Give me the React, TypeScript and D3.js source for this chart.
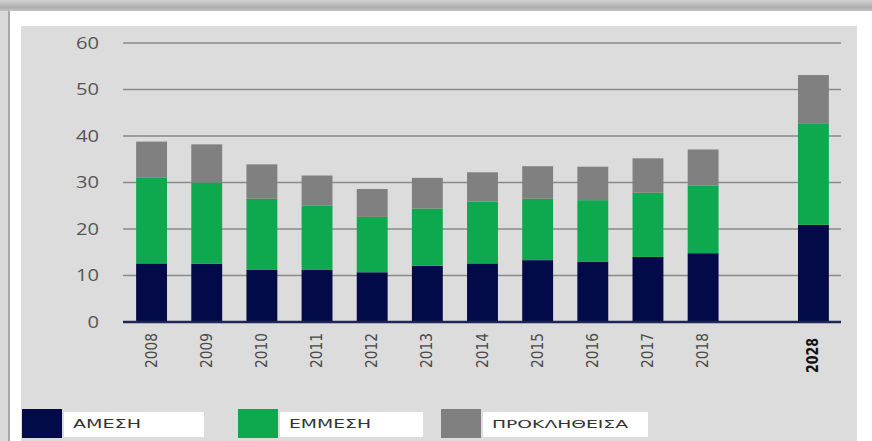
import React from "react";
import * as d3 from "d3";

const categories = ["2008", "2009", "2010", "2011", "2012", "2013", "2014", "2015", "2016", "2017", "2018", "", "2028"];
const direct = [12.6, 12.5, 11.2, 11.2, 10.7, 12.1, 12.6, 13.3, 13.0, 14.0, 14.8, 0, 20.9];
const indirect = [18.4, 17.5, 15.3, 13.8, 11.9, 12.3, 13.3, 13.2, 13.2, 13.8, 14.5, 0, 21.7];
const induced = [7.8, 8.2, 7.4, 6.5, 6.0, 6.6, 6.3, 7.0, 7.2, 7.4, 7.8, 0, 10.5];
const yTicks = [0, 10, 20, 30, 40, 50, 60];
const seriesNames = ["ΑΜΕΣΗ", "ΕΜΜΕΣΗ", "ΠΡΟΚΛΗΘΕΙΣΑ"];
const seriesColors = ["#020a47", "#0ea84f", "#808080"];

const W = 872;
const H = 441;

export default function App() {
  const x = d3.scaleBand<string>().domain(categories).range([124, 841]).paddingInner(0.44).paddingOuter(0.22);
  const y = d3.scaleLinear().domain([0, 60]).range([322, 43]);

  const rows = categories.map((c, i) => ({ cat: c, a: direct[i], b: indirect[i], c: induced[i] }));
  const stack = d3.stack<any>().keys(["a", "b", "c"])(rows);

  const legendX = [22, 238, 441];
  const legendBoxW = [140, 143, 165];
  const legendTextW = [68, 82, 136];

  return (
    <div style={{ position: "absolute", left: 0, top: 0 }}>
      <svg width={W} height={H} style={{ display: "block" }}>
        <defs>
          <linearGradient id="topShadow" x1="0" y1="0" x2="0" y2="1">
            <stop offset="0" stopColor="#d2d2d2" />
            <stop offset="0.7" stopColor="#aeaeae" />
            <stop offset="1" stopColor="#c4c4c4" />
          </linearGradient>
        </defs>
        <rect x={0} y={0} width={W} height={H} fill="#ffffff" />
        <rect x={0} y={0} width={9} height={H} fill="#dadada" />
        <rect x={8} y={0} width={2} height={H} fill="#a8a8a8" />
        <rect x={0} y={0} width={W} height={11} fill="url(#topShadow)" />
        <rect x={21} y={26} width={836} height={H - 26} fill="#dcdcdc" />

        {/* gridlines */}
        {yTicks.filter((t) => t > 0).map((t) => (
          <line key={t} x1={123} x2={841} y1={y(t)} y2={y(t)} stroke="#8a8a8a" strokeWidth={1.5} />
        ))}
        {/* y labels */}
        {yTicks.map((t) => (
          <text
            key={t}
            x={99}
            y={y(t)}
            dy="0.35em"
            textAnchor="end"
            fontFamily="'Open Sans', sans-serif"
            fontSize={16}
            fill="#555"
            textLength={String(t).length * 11.5}
            lengthAdjust="spacingAndGlyphs"
          >
            {t}
          </text>
        ))}

        {/* bars */}
        {stack.map((layer, li) => (
          <g key={li} fill={seriesColors[li]}>
            {layer.map((d, i) =>
              categories[i] === "" ? null : (
                <rect key={i} x={x(categories[i])} width={x.bandwidth()} y={y(d[1])} height={y(d[0]) - y(d[1])} />
              )
            )}
          </g>
        ))}

        {/* baseline */}
        <line x1={123} x2={841} y1={y(0)} y2={y(0)} stroke="#1d2656" strokeWidth={2.5} />

        {/* x labels */}
        {categories.map((c) => {
          if (c === "") return null;
          const cx = (x(c) as number) + x.bandwidth() / 2;
          const bold = c === "2028";
          const ty = bold ? 338 : 333;
          return (
            <text
              key={c}
              transform={`translate(${cx},${ty}) rotate(-90)`}
              textAnchor="end"
              dominantBaseline="central"
              fontFamily="'Liberation Sans Narrow', 'DejaVu Sans Condensed', 'Liberation Sans', sans-serif"
              fontSize={15}
              fontWeight={bold ? "bold" : "normal"}
              fill={bold ? "#111" : "#4a4a4a"}
              textLength={35}
              lengthAdjust="spacingAndGlyphs"
            >
              {c}
            </text>
          );
        })}

        {/* legend */}
        {seriesNames.map((n, i) => (
          <g key={n}>
            <rect x={legendX[i]} y={409} width={40} height={29} fill={seriesColors[i]} />
            <rect x={legendX[i] + 42} y={412} width={legendBoxW[i]} height={25} fill="#ffffff" />
            <text
              x={legendX[i] + 51}
              y={428}
              fontFamily="'DejaVu Sans', sans-serif"
              fontSize={i === 2 ? 10 : 13}
              fill="#333"
              textLength={legendTextW[i]}
              lengthAdjust="spacingAndGlyphs"
            >
              {n}
            </text>
          </g>
        ))}
      </svg>
    </div>
  );
}
